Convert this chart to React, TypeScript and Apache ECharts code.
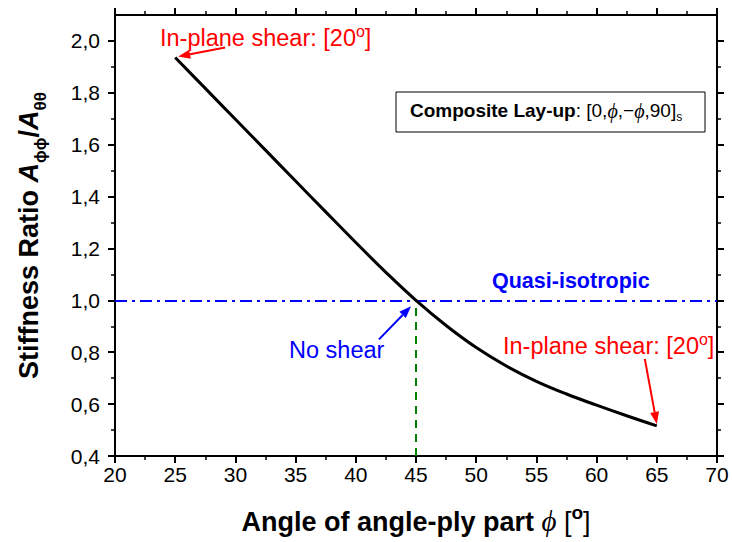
import React, { useEffect, useRef } from 'react';
import * as echarts from 'echarts';

// ---- data ----
const angles = [25, 27.5, 30, 32.5, 35, 37.5, 40, 42.5, 45, 47.5, 50, 52.5, 55, 57.5, 60, 62.5, 65];
const ratios = [1.936, 1.817, 1.698, 1.579, 1.46, 1.341, 1.223, 1.108, 1.0, 0.903, 0.818, 0.747, 0.688, 0.639, 0.596, 0.555, 0.516];
const xTickValues = [20, 25, 30, 35, 40, 45, 50, 55, 60, 65, 70];
const yMajorTicks = [0.4, 0.6, 0.8, 1.0, 1.2, 1.4, 1.6, 1.8, 2.0];
const yMinorTicks = [0.5, 0.7, 0.9, 1.1, 1.3, 1.5, 1.7, 1.9];
const quasiIsotropicLevel = 1.0;
const noShearAngle = 45;
const yBottom = 0.4;

const FONT = '"Liberation Sans", Arial, sans-serif';
const SERIF = '"Liberation Serif", "DejaVu Serif", serif';

function arrow(tip: number[], from: number[], color: string) {
  const dx = tip[0] - from[0];
  const dy = tip[1] - from[1];
  const L = Math.sqrt(dx * dx + dy * dy);
  const ux = dx / L, uy = dy / L;
  const len = 12, half = 4.5;
  const bx = tip[0] - ux * len, by = tip[1] - uy * len;
  const px = -uy, py = ux;
  return [
    { type: 'line', z: 20, shape: { x1: from[0], y1: from[1], x2: bx, y2: by }, style: { stroke: color, lineWidth: 2 } },
    { type: 'polygon', z: 20, shape: { points: [[tip[0], tip[1]], [bx + px * half, by + py * half], [bx - px * half, by - py * half]] }, style: { fill: color } },
  ];
}

export default function App() {
  const ref = useRef<HTMLDivElement>(null);
  useEffect(() => {
    document.body.style.margin = '0';
    const chart = echarts.init(ref.current!, null, { renderer: 'svg' });
    const axisLine = { show: true, onZero: false, lineStyle: { color: '#000', width: 2 } };
    const xCommon = {
      type: 'value', min: 20, max: 70, interval: 5,
      axisLine,
      axisTick: { show: true, length: 7, lineStyle: { color: '#000', width: 2 } },
      minorTick: { show: true, splitNumber: 2, length: 4, lineStyle: { color: '#000', width: 1.5 } },
      splitLine: { show: false },
    };
    const yMajor = {
      type: 'value', min: 0.4, max: 2.1,
      axisLine,
      axisTick: { show: true, length: 7, customValues: yMajorTicks, lineStyle: { color: '#000', width: 2 } },
      splitLine: { show: false },
    };
    const yMinor = {
      type: 'value', min: 0.4, max: 2.1,
      axisLine: { show: false },
      axisLabel: { show: false },
      axisTick: { show: true, length: 4, customValues: yMinorTicks, lineStyle: { color: '#000', width: 1.5 } },
      splitLine: { show: false },
    };
    const option: any = {
      animation: false,
      backgroundColor: '#fff',
      grid: { left: 115, right: 15, top: 15, bottom: 86, containLabel: false },
      xAxis: [
        {
          ...xCommon, position: 'bottom',
          axisLabel: { fontSize: 21, color: '#000', margin: 8, fontFamily: FONT, customValues: xTickValues },
          name: '{b|Angle of angle-ply part }{phi|ϕ}{n| [}{sup|o}{n|]}',
          nameLocation: 'middle', nameGap: 47,
          nameTextStyle: {
            rich: {
              b: { fontSize: 27, fontWeight: 'bold', fontFamily: FONT, color: '#000', lineHeight: 32, verticalAlign: 'bottom' },
              phi: { fontSize: 29, fontStyle: 'italic', fontFamily: SERIF, color: '#000', lineHeight: 32, verticalAlign: 'bottom' },
              n: { fontSize: 27, fontFamily: FONT, color: '#000', lineHeight: 32, verticalAlign: 'bottom' },
              sup: { fontSize: 19, fontWeight: 'bold', fontFamily: FONT, color: '#000', lineHeight: 19, verticalAlign: 'top' },
            },
          },
        },
        { ...xCommon, position: 'top', axisLabel: { show: false } },
      ],
      yAxis: [
        {
          ...yMajor, position: 'left',
          axisLabel: {
            fontSize: 21, color: '#000', margin: 15, fontFamily: FONT, customValues: yMajorTicks,
            formatter: (v: number) => v.toFixed(1).replace('.', ','),
          },
          name: '{b|Stiffness Ratio }{a|A}{sub|ϕϕ}{b|/}{a|A}{sub|θθ}',
          nameLocation: 'middle', nameRotate: 90, nameGap: 66,
          nameTextStyle: {
            rich: {
              b: { fontSize: 27, fontWeight: 'bold', fontFamily: FONT, color: '#000', lineHeight: 34, verticalAlign: 'top' },
              a: { fontSize: 27, fontWeight: 'bold', fontStyle: 'italic', fontFamily: FONT, color: '#000', lineHeight: 34, verticalAlign: 'top' },
              sub: { fontSize: 17, fontWeight: 'bold', fontFamily: FONT, color: '#000', lineHeight: 17, verticalAlign: 'bottom' },
            },
          },
        },
        { ...yMajor, position: 'right', axisLabel: { show: false } },
        { ...yMinor, position: 'left' },
        { ...yMinor, position: 'right' },
      ],
      series: [
        {
          type: 'line', xAxisIndex: 0, yAxisIndex: 0,
          data: angles.map((a, i) => [a, ratios[i]]),
          smooth: 0.4, showSymbol: false, symbol: 'none',
          lineStyle: { color: '#000', width: 3 },
          z: 5,
          markLine: {
            silent: true, symbol: ['none', 'none'], label: { show: false },
            data: [
              { yAxis: quasiIsotropicLevel, lineStyle: { color: '#0000ff', width: 2, type: [12, 5, 3, 5] } },
              [
                { coord: [noShearAngle, yBottom], lineStyle: { color: '#008000', width: 2, type: [8, 6] } },
                { coord: [noShearAngle, quasiIsotropicLevel] },
              ],
            ],
          },
        },
      ],
    };
    chart.setOption(option);

    const P = (x: number, y: number) => chart.convertToPixel({ gridIndex: 0 }, [x, y]) as number[];
    const start = P(angles[0], ratios[0]);
    const end = P(angles[angles.length - 1], ratios[ratios.length - 1]);
    const mid = P(noShearAngle, quasiIsotropicLevel);
    const tipTop = [start[0] + 3, start[1] - 1];
    const tipEnd = [end[0], end[1] - 2];
    const tipMid = [mid[0] - 5, mid[1] + 6];

    const richShear = {
      n: { fontSize: 23.5, fontFamily: FONT, fill: '#ff0000', lineHeight: 27, verticalAlign: 'bottom' },
      sup: { fontSize: 16, fontFamily: FONT, fill: '#ff0000', lineHeight: 16, verticalAlign: 'top' },
    };

    chart.setOption({
      graphic: [
        {
          type: 'text', left: 160, top: 23, z: 20,
          style: { text: '{n|In-plane shear: [20}{sup|o}{n|]}', rich: richShear },
        },
        ...arrow(tipTop, [tipTop[0] + 47, tipTop[1] - 9], '#ff0000'),
        {
          type: 'text', left: 503, top: 331, z: 20,
          style: { text: '{n|In-plane shear: [20}{sup|o}{n|]}', rich: richShear },
        },
        ...arrow(tipEnd, [tipEnd[0] - 12, tipEnd[1] - 65], '#ff0000'),
        {
          type: 'text', left: 289, top: 338, z: 20,
          style: { text: 'No shear', fontSize: 23.5, fontFamily: FONT, fill: '#0000ff' },
        },
        ...arrow(tipMid, [tipMid[0] - 32, tipMid[1] + 33], '#0000ff'),
        {
          type: 'text', left: 492, top: 270, z: 20,
          style: { text: 'Quasi-isotropic', fontSize: 21.5, fontWeight: 'bold', fontFamily: FONT, fill: '#0000ff' },
        },
        {
          type: 'rect', z: 15,
          shape: { x: 396, y: 92, width: 309, height: 40 },
          style: { fill: '#fff', stroke: '#000', lineWidth: 1 },
        },
        {
          type: 'text', left: 410, top: 101, z: 20,
          style: {
            text: '{b|Composite Lay-up}{n|: [0,}{phi|ϕ}{n|,−}{phi|ϕ}{n|,90]}{sub|s}',
            rich: {
              b: { fontSize: 19, fontWeight: 'bold', fontFamily: FONT, fill: '#000', lineHeight: 22, verticalAlign: 'top' },
              n: { fontSize: 19, fontFamily: FONT, fill: '#000', lineHeight: 22, verticalAlign: 'top' },
              phi: { fontSize: 20, fontStyle: 'italic', fontFamily: SERIF, fill: '#000', lineHeight: 22, verticalAlign: 'top' },
              sub: { fontSize: 12, fontFamily: FONT, fill: '#000', lineHeight: 12, verticalAlign: 'bottom' },
            },
          },
        },
      ],
    });
    return () => chart.dispose();
  }, []);
  return <div ref={ref} style={{ width: 732, height: 542 }} />;
}
